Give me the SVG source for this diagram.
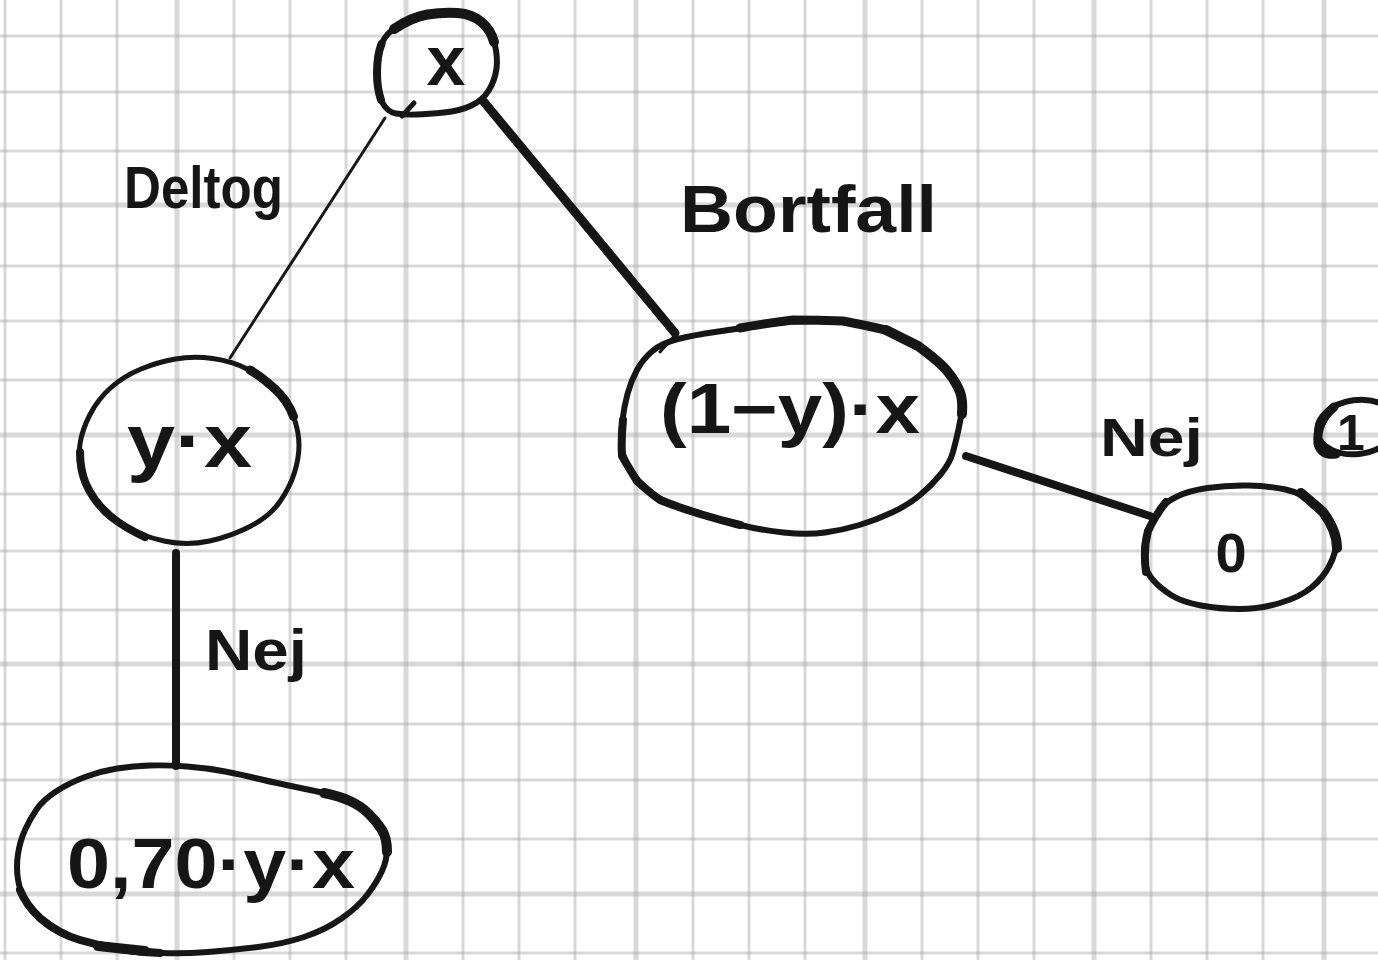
<svg xmlns="http://www.w3.org/2000/svg" width="1378" height="960" viewBox="0 0 1378 960">
  <style>
    .grid line { stroke: #a9a9a9; stroke-opacity: 0.45; }
    .g1 { stroke-width: 3; }
    .g2 { stroke-width: 5; }
    .ink { fill: none; stroke: #161616; stroke-linecap: round; stroke-linejoin: round; }
    .w3 { stroke-width: 3; }
    .w5 { stroke-width: 5; }
    .w6 { stroke-width: 6; }
    .w8 { stroke-width: 8; }
    .w9 { stroke-width: 9; }
    .w10 { stroke-width: 10; }
    text { font-family: "Liberation Sans Narrow", "Liberation Sans", sans-serif; font-weight: bold; fill: #161616; }
  </style>

  <rect width="1378" height="960" fill="#ffffff"/>

  <!-- squared paper -->
  <g class="grid">
    <line class="g1" x1="5" y1="0" x2="5" y2="960"/>
    <line class="g1" x1="61" y1="0" x2="61" y2="960"/>
    <line class="g1" x1="117" y1="0" x2="117" y2="960"/>
    <line class="g2" x1="177" y1="0" x2="177" y2="960"/>
    <line class="g1" x1="234" y1="0" x2="234" y2="960"/>
    <line class="g1" x1="290" y1="0" x2="290" y2="960"/>
    <line class="g1" x1="346" y1="0" x2="346" y2="960"/>
    <line class="g2" x1="406" y1="0" x2="406" y2="960"/>
    <line class="g1" x1="463" y1="0" x2="463" y2="960"/>
    <line class="g1" x1="519" y1="0" x2="519" y2="960"/>
    <line class="g1" x1="575" y1="0" x2="575" y2="960"/>
    <line class="g2" x1="636" y1="0" x2="636" y2="960"/>
    <line class="g1" x1="693" y1="0" x2="693" y2="960"/>
    <line class="g1" x1="749" y1="0" x2="749" y2="960"/>
    <line class="g1" x1="805" y1="0" x2="805" y2="960"/>
    <line class="g2" x1="865" y1="0" x2="865" y2="960"/>
    <line class="g1" x1="922" y1="0" x2="922" y2="960"/>
    <line class="g1" x1="978" y1="0" x2="978" y2="960"/>
    <line class="g1" x1="1034" y1="0" x2="1034" y2="960"/>
    <line class="g2" x1="1094" y1="0" x2="1094" y2="960"/>
    <line class="g1" x1="1151" y1="0" x2="1151" y2="960"/>
    <line class="g1" x1="1207" y1="0" x2="1207" y2="960"/>
    <line class="g1" x1="1263" y1="0" x2="1263" y2="960"/>
    <line class="g2" x1="1324" y1="0" x2="1324" y2="960"/>

    <line class="g1" x1="0" y1="36" x2="1378" y2="36"/>
    <line class="g1" x1="0" y1="92" x2="1378" y2="92"/>
    <line class="g1" x1="0" y1="151" x2="1378" y2="151"/>
    <line class="g2" x1="0" y1="205" x2="1378" y2="205"/>
    <line class="g1" x1="0" y1="266" x2="1378" y2="266"/>
    <line class="g1" x1="0" y1="321" x2="1378" y2="321"/>
    <line class="g1" x1="0" y1="380" x2="1378" y2="380"/>
    <line class="g2" x1="0" y1="435" x2="1378" y2="435"/>
    <line class="g1" x1="0" y1="494" x2="1378" y2="494"/>
    <line class="g1" x1="0" y1="551" x2="1378" y2="551"/>
    <line class="g1" x1="0" y1="610" x2="1378" y2="610"/>
    <line class="g2" x1="0" y1="664" x2="1378" y2="664"/>
    <line class="g1" x1="0" y1="724" x2="1378" y2="724"/>
    <line class="g1" x1="0" y1="780" x2="1378" y2="780"/>
    <line class="g1" x1="0" y1="839" x2="1378" y2="839"/>
    <line class="g2" x1="0" y1="894" x2="1378" y2="894"/>
    <line class="g1" x1="0" y1="953" x2="1378" y2="953"/>
  </g>

  <!-- connectors -->
  <g id="connectors">
    <line class="ink w3" x1="385" y1="118" x2="230" y2="358"/>
    <line class="ink w9" x1="484" y1="102" x2="675" y2="333"/>
    <path class="ink w3" d="M 676 334 L 660 352"/>
    <line class="ink w8" x1="966" y1="456" x2="1150" y2="516"/>
    <line class="ink w8" x1="176" y1="553" x2="176" y2="766"/>
  </g>

  <!-- edge labels -->
  <g id="labels">
    <text x="124" y="208" font-size="60" textLength="159" lengthAdjust="spacingAndGlyphs">Deltog</text>
    <text x="680" y="232" font-size="66" textLength="257" lengthAdjust="spacingAndGlyphs">Bortfall</text>
    <text x="205" y="670" font-size="58" textLength="102" lengthAdjust="spacingAndGlyphs">Nej</text>
    <text x="1100" y="456" font-size="54" textLength="103" lengthAdjust="spacingAndGlyphs">Nej</text>
  </g>

  <!-- root: x -->
  <g id="node-x">
    <path class="ink w6" d="M 399 25 Q 412 17 427.5 14.5 Q 443 12 457.5 13 Q 472 14 481.5 22 Q 491 30 494.5 43.5 Q 498 57 496.5 68.5 Q 495 80 489 90 Q 483 100 471.5 105.5 Q 460 111 444 112.5 Q 428 114 416.5 114.5 Q 405 115 396 113.5 Q 387 112 382 102 Q 377 92 377 73.5 Q 377 55 381.5 44 Q 386 33 399 25 Z"/>
    <path class="ink w10" d="M 394 29 Q 412 17 427.5 14.5 Q 443 12 457.5 13 Q 472 14 481.5 22 Q 491 30 494 42"/>
    <path class="ink w8" d="M 381 100 Q 377 88 377 73.5 Q 377 55 381.5 44"/>
    <path class="ink w5" d="M 402 116 L 414 103"/>
    <text x="446" y="85" font-size="70" text-anchor="middle">x</text>
  </g>

  <!-- left branch: y·x -->
  <g id="node-yx">
    <path class="ink w5" d="M 175.5 359 Q 193 356 212.5 358.5 Q 232 361 247 369 Q 262 377 275 389 Q 288 401 293.5 416.5 Q 299 432 299 445 Q 299 458 294.5 472.5 Q 290 487 280 501.5 Q 270 516 251 526 Q 232 536 209.5 541 Q 187 546 164 541 Q 141 536 125.5 526 Q 110 516 98 501.5 Q 86 487 82 472.5 Q 78 458 80 444 Q 82 430 90 414.5 Q 98 399 111 387.5 Q 124 376 141 369 Q 158 362 175.5 359 Z"/>
    <path class="ink w9" d="M 250 370 Q 262 377 275 389 Q 288 401 293.5 416.5"/>
    <path class="ink w8" d="M 80 452 Q 80 470 86 484 Q 94 502 110 516 Q 125 528 145 537"/>
    <text x="127" y="467" font-size="76" textLength="125" lengthAdjust="spacingAndGlyphs">y·x</text>
  </g>

  <!-- right branch: (1−y)·x -->
  <g id="node-1yx">
    <path class="ink w6" d="M 678 339 Q 694 335 718.5 331.5 Q 743 328 768 324 Q 793 320 818 320.5 Q 843 321 864.5 325.5 Q 886 330 902 338 Q 918 346 929 354 Q 940 362 948 372 Q 956 382 959.5 390 Q 963 398 962 408 Q 961 418 958.5 429.5 Q 956 441 953 452 Q 950 463 940.5 474.5 Q 931 486 919.5 495.5 Q 908 505 892 512.5 Q 876 520 859.5 525 Q 843 530 825 532.5 Q 807 535 783.5 532.5 Q 760 530 740.5 525 Q 721 520 705 515 Q 689 510 674.5 505 Q 660 500 648.5 490.5 Q 637 481 629.5 468.5 Q 622 456 621.5 444.5 Q 621 433 622.5 420 Q 624 407 627.5 394 Q 631 381 637 370 Q 643 359 652.5 351 Q 662 343 678 339 Z"/>
    <path class="ink w9" d="M 740 328 Q 768 323 793 320 Q 818 320 843 321 Q 864 325 886 330"/>
    <path class="ink w10" d="M 886 330 Q 902 338 918 346 Q 940 362 948 372 Q 956 382 960 392 Q 963 400 962 414"/>
    <path class="ink w8" d="M 623 420 Q 621 440 622 456 Q 630 470 637 481 Q 650 493 660 500 Q 680 508 700 514 Q 720 520 740 525"/>
    <text x="660" y="433" font-size="70" textLength="260" lengthAdjust="spacingAndGlyphs">(1−y)·x</text>
  </g>

  <!-- Nej outcome: 0 -->
  <g id="node-zero">
    <path class="ink w6" d="M 1207.5 488 Q 1227 485 1248.5 485.5 Q 1270 486 1285.5 489.5 Q 1301 493 1312 502.5 Q 1323 512 1330 521.5 Q 1337 531 1336.5 542 Q 1336 553 1329.5 565.5 Q 1323 578 1311.5 587.5 Q 1300 597 1280 603 Q 1260 609 1240 609 Q 1220 609 1201 605.5 Q 1182 602 1171 595 Q 1160 588 1153 580 Q 1146 572 1144.5 561 Q 1143 550 1145.5 540.5 Q 1148 531 1152 522.5 Q 1156 514 1161 508 Q 1166 502 1177 496.5 Q 1188 491 1207.5 488 Z"/>
    <path class="ink w10" d="M 1301 493 Q 1312 502 1323 512 Q 1337 531 1337 548"/>
    <path class="ink w8" d="M 1146 572 Q 1143 550 1148 531 Q 1156 514 1166 502"/>
    <text x="1231" y="572" font-size="56" text-anchor="middle">0</text>
  </g>

  <!-- circled 1 -->
  <g id="mark-1">
    <ellipse class="ink w6" cx="1357" cy="427" rx="40" ry="27" transform="rotate(-8 1357 427)"/>
    <path class="ink w9" d="M 1334 407 Q 1316 422 1318 444 Q 1322 456 1336 454"/>
    <text x="1351" y="450" font-size="50" text-anchor="middle">1</text>
  </g>

  <!-- Nej outcome: 0,70·y·x -->
  <g id="node-070yx">
    <path class="ink w6" d="M 187 766.5 Q 207 768 225 771.5 Q 243 775 255 778 Q 267 781 288.5 785.5 Q 310 790 324.5 793 Q 339 796 350 801 Q 361 806 369 814 Q 377 822 382 830 Q 387 838 387 849 Q 387 860 382 871 Q 377 882 367.5 894.5 Q 358 907 341.5 918.5 Q 325 930 304 937 Q 283 944 258 947 Q 233 950 208 952 Q 183 954 161.5 953 Q 140 952 119 948.5 Q 98 945 78.5 939.5 Q 59 934 46 924 Q 33 914 26.5 903 Q 20 892 18 879.5 Q 16 867 18 854 Q 20 841 25 830 Q 30 819 36.5 809.5 Q 43 800 56 791.5 Q 69 783 85 777 Q 101 771 117 768.5 Q 133 766 150 765.5 Q 167 765 187 766.5 Z"/>
    <path class="ink w10" d="M 324 793 Q 339 796 350 801 Q 361 806 369 814 Q 377 822 382 830 Q 387 838 387 852"/>
    <path class="ink w8" d="M 20 890 Q 26 905 40 918 Q 59 934 80 940 Q 100 946 120 949 Q 140 952 160 953"/>
    <path class="ink w10" d="M 98 946 L 145 951"/>
    <text x="67" y="888" font-size="70" textLength="288" lengthAdjust="spacingAndGlyphs">0,70·y·x</text>
  </g>
</svg>
